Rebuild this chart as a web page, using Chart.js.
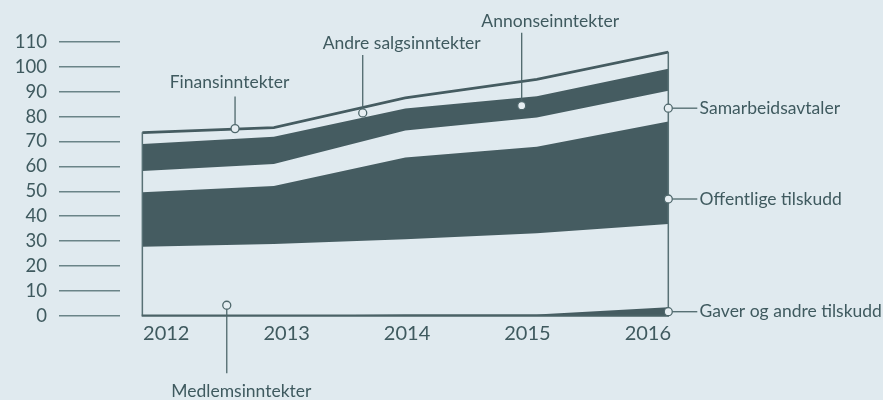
<!DOCTYPE html>
<html><head><meta charset="utf-8">
<script src="https://cdn.jsdelivr.net/npm/chart.js@4.4.0/dist/chart.umd.min.js"></script>
<style>html,body{margin:0;padding:0;background:#e0eaef;overflow:hidden}#wrap{width:883px;height:400px;position:relative}</style>
</head><body><div id="wrap"><canvas id="c" width="883" height="400"></canvas></div>
<script>
const years = [2012, 2013, 2014, 2015, 2016];
const yTicks = [0, 10, 20, 30, 40, 50, 60, 70, 80, 90, 100, 110];
const gaver = [0, 0, 0.5, 0.5, 3.4];
const medlems = [27.7, 28.8, 30.2, 32.6, 33.5];
const offentlige = [21.9, 23.3, 32.9, 34.8, 41.1];
const samarbeid = [8.6, 8.9, 10.8, 11.8, 12.4];
const annonse = [10.8, 10.9, 8.9, 8.5, 8.8];
const andreSalg = [4.0, 3.1, 3.7, 6.2, 6.2];
const finans = [0.7, 0.7, 0.7, 0.7, 0.7];

const DARK = '#455c61';
const LIGHT = 'rgba(0,0,0,0)';
const TEXT = '#3f5a5f';
const FONT = 'Lato';

const seriesList = [
  {name: 'Gaver og andre tilskudd', data: gaver, color: DARK},
  {name: 'Medlemsinntekter', data: medlems, color: LIGHT},
  {name: 'Offentlige tilskudd', data: offentlige, color: DARK},
  {name: 'Samarbeidsavtaler', data: samarbeid, color: LIGHT},
  {name: 'Annonseinntekter', data: annonse, color: DARK},
  {name: 'Andre salgsinntekter', data: andreSalg, color: LIGHT},
  {name: 'Finansinntekter', data: finans, color: DARK, top: true}
];

const datasets = seriesList.map((s, i) => ({
  label: s.name,
  data: s.data.map((v, j) => ({x: years[j], y: v})),
  backgroundColor: s.color,
  borderColor: DARK,
  borderWidth: s.top ? 2 : 0,
  fill: i === 0 ? 'origin' : '-1',
  pointRadius: 0,
  tension: 0,
  xAxisID: 'x',
  yAxisID: 'y'
}));

// callouts: anchor in data coords, label offsets in px
const callouts = [
  {text: 'Finansinntekter', x: 2012.705, y: 75.2, dir: 'up', lineLen: 28, tdx: -5.5, tdy: -46.7},
  {text: 'Andre salgsinntekter', x: 2013.676, y: 81.5, dir: 'up', lineLen: 54, tdx: 39, tdy: -69.5},
  {text: 'Annonseinntekter', x: 2014.885, y: 84.4, dir: 'up', lineLen: 69, tdx: 28.5, tdy: -84.7},
  {text: 'Samarbeidsavtaler', x: 2016, y: 83.4, dir: 'right', lineLen: 25, tdx: 31.3, tdy: 0},
  {text: 'Offentlige tilskudd', x: 2016, y: 46.9, dir: 'right', lineLen: 25, tdx: 31.3, tdy: 0},
  {text: 'Gaver og andre tilskudd', x: 2016, y: 1.6, dir: 'right', lineLen: 25, tdx: 31.3, tdy: 0},
  {text: 'Medlemsinntekter', x: 2012.642, y: 4.2, dir: 'down', lineLen: 64, tdx: 14.6, tdy: 85.7}
];

const outlinePlugin = {
  id: 'outline',
  afterDatasetsDraw(chart) {
    const {ctx, scales: {x, y}} = chart;
    const totals = years.map((_, j) => seriesList.reduce((a, s) => a + s.data[j], 0));
    const x0 = x.getPixelForValue(years[0]);
    const x1 = x.getPixelForValue(years[years.length - 1]);
    const yb = y.getPixelForValue(0);
    ctx.save();
    ctx.strokeStyle = '#587175';
    ctx.lineWidth = 1.5;
    ctx.beginPath();
    ctx.moveTo(x0, yb); ctx.lineTo(x0, y.getPixelForValue(totals[0]));
    ctx.moveTo(x1, yb); ctx.lineTo(x1, y.getPixelForValue(totals[totals.length - 1]));
    ctx.stroke();
    ctx.strokeStyle = '#4a6266';
    ctx.lineWidth = 2.2;
    ctx.beginPath();
    ctx.moveTo(x0 - 0.7, yb); ctx.lineTo(x1 + 0.7, yb);
    ctx.stroke();
    ctx.restore();
  }
};

const calloutPlugin = {
  id: 'callouts',
  afterDraw(chart) {
    const {ctx, scales: {x, y}} = chart;
    ctx.save();
    ctx.font = '17.5px ' + FONT;
    ctx.fillStyle = TEXT;
    callouts.forEach(c => {
      const px = x.getPixelForValue(c.x);
      const py = y.getPixelForValue(c.y);
      const r = 4;
      ctx.strokeStyle = '#4e676b';
      ctx.lineWidth = 1.3;
      ctx.beginPath();
      if (c.dir === 'up') { ctx.moveTo(px, py - r); ctx.lineTo(px, py - r - c.lineLen); }
      else if (c.dir === 'down') { ctx.moveTo(px, py + r); ctx.lineTo(px, py + r + c.lineLen); }
      else { ctx.moveTo(px + r, py); ctx.lineTo(px + r + c.lineLen, py); }
      ctx.stroke();
      ctx.beginPath();
      ctx.arc(px, py, r, 0, Math.PI * 2);
      ctx.fillStyle = '#e6eef2';
      ctx.fill();
      ctx.stroke();
      ctx.fillStyle = TEXT;
      ctx.textBaseline = 'middle';
      ctx.textAlign = c.dir === 'right' ? 'left' : 'center';
      ctx.fillText(c.text, px + c.tdx, py + c.tdy);
    });
    ctx.restore();
  }
};

new Chart(document.getElementById('c'), {
  type: 'line',
  data: {datasets},
  plugins: [outlinePlugin, calloutPlugin],
  options: {
    responsive: false,
    animation: false,
    events: [],
    layout: {padding: {top: 42, right: 214.7, bottom: 0, left: 0}},
    plugins: {legend: {display: false}, tooltip: {enabled: false}},
    scales: {
      x: {type: 'linear', display: false, min: 2011.830, max: 2016},
      xl: {
        type: 'linear', position: 'bottom', min: 2011.616, max: 2016.170,
        afterBuildTicks: s => { s.ticks = years.map(v => ({value: v})); },
        afterFit: s => { s.height = 84.3; },
        grid: {display: false, drawTicks: false}, border: {display: false},
        ticks: {callback: v => String(v), color: TEXT, font: {family: FONT, size: 20}, padding: 6, maxRotation: 0, autoSkip: false}
      },
      y: {
        type: 'linear', stacked: true, min: 0, max: 110,
        afterBuildTicks: s => { s.ticks = yTicks.map(v => ({value: v})); },
        afterFit: s => { s.width = 120; },
        grid: {drawOnChartArea: false, drawTicks: true, tickLength: 61, color: '#6a8488', lineWidth: 1.5},
        border: {display: false},
        ticks: {color: TEXT, font: {family: FONT, size: 18.5}, padding: 12, autoSkip: false}
      }
    }
  }
});
</script></body></html>
